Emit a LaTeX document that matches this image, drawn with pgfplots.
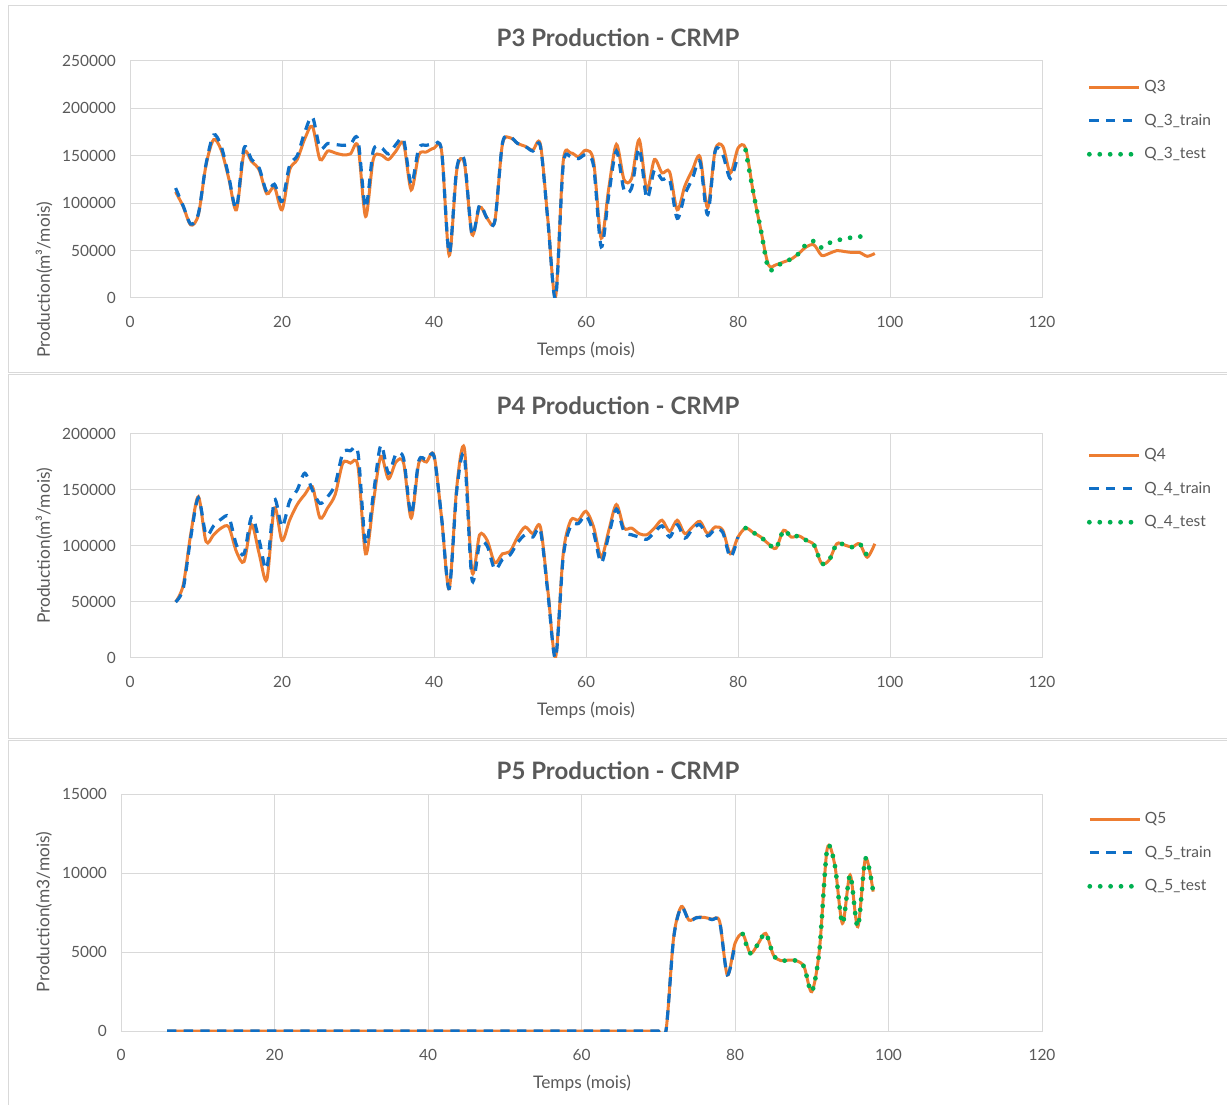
\documentclass[border=0pt]{standalone}
\usepackage{fontspec}
\setmainfont{Lato}
\usepackage{pgfplots}
\pgfplotsset{compat=1.18}
\definecolor{qorange}{HTML}{ED7D31}
\definecolor{qblue}{HTML}{0F6FC6}
\definecolor{qgreen}{HTML}{00B050}
\definecolor{gridc}{HTML}{D9D9D9}
\definecolor{txt}{HTML}{595959}
\pgfplotsset{
  crmp/.style={
    scale only axis,
    xmin=0,xmax=120, xtick={0,20,...,120},
    ymin=0,
    grid=major,
    major grid style={draw=gridc, line width=0.75pt},
    axis line style={draw=gridc, line width=0.75pt},
    major tick length=0pt,
    tick label style={font=\fontsize{11.6}{13}\selectfont, text=txt},
    /pgf/number format/assume math mode=true,
    /pgf/number format/fixed,
    /pgf/number format/precision=0,
    /pgf/number format/1000 sep={},
    scaled y ticks=false,
    yticklabel style={xshift=-7pt},
    xticklabel style={yshift=-10.5pt},
    legend style={at={(1.049,0.930)}, anchor=north west, draw=none, fill=none, inner sep=0pt,
      font=\fontsize{11.6}{13}\selectfont, text=txt, row sep=11.25pt, cells={anchor=west}},
    legend image code/.code={\draw[#1] (0pt,0pt) -- (37.5pt,0pt);},
    legend cell align=left,
  },
  qo/.style={qorange, line width=2.25pt, smooth, mark=none},
  qb/.style={qblue, line width=2.4pt, dash pattern=on 7pt off 5.5pt, smooth, mark=none},
  qg/.style={qgreen, line width=3.6pt, dash pattern=on 0pt off 7.8pt, line cap=round, smooth, mark=none},
}
\begin{document}
\begin{tikzpicture}
\path[use as bounding box] (0,0) rectangle (920.25pt,828pt);
\draw[gridc, line width=0.75pt] (6pt,823.5pt) rectangle (930pt,548.25pt);
\draw[gridc, line width=0.75pt] (6pt,546.75pt) rectangle (930pt,274.5pt);
\draw[gridc, line width=0.75pt] (6pt,273pt) rectangle (930pt,-4.5pt);

% ---------------- P3
\begin{axis}[crmp, at={(97.5pt,604.5pt)}, width=684pt, height=177.75pt,
  ymax=250000, ytick={0,50000,...,250000}]
\addplot[qo] table {
6 112000
7 96500
8 77000
9 88000
10 140000
11 167000
12 156000
13 126000
14 93000
15 153000
16 144000
17 135000
18 110000
19 117000
20 93000
21 135000
22 146000
23 168000
24 181000
25 146000
26 155000
27 153000
28 151000
29 152000
30 160000
31 86000
32 146000
33 151000
34 146000
35 155000
36 163000
37 114000
38 151000
39 154000
40 158000
41 155000
42 45000
43 135000
44 142000
45 67000
46 96000
47 84000
48 81000
49 162000
50 169000
51 163000
52 160000
53 156000
54 162000
55 81000
56 1500
57 144000
58 153000
59 149000
60 156000
61 144000
62 63000
63 116000
64 162000
65 125000
66 126000
67 167000
68 114000
69 146000
70 132000
71 133000
72 93000
73 118000
74 135000
75 149000
76 95000
77 156000
78 160000
79 132000
80 158000
81 158000
82 112000
83 72000
84 35000
85 35000
86 38000
87 41000
88 47000
89 54000
90 56000
91 45000
92 47000
93 50000
94 49000
95 48000
96 48000
97 44000
98 47000
};
\addlegendentry{Q3}
\addplot[qb] table {
6 116000
7 97000
8 78000
9 89000
10 141000
11 172000
12 160000
13 128000
14 95000
15 158000
16 146000
17 137000
18 112000
19 120000
20 102000
21 140000
22 150000
23 175000
24 191000
25 158000
26 163000
27 162000
28 161000
29 162000
30 167000
31 95000
32 155000
33 159000
34 152000
35 162000
36 167000
37 120000
38 158000
39 161000
40 162000
41 155000
42 47000
43 137000
44 145000
45 67000
46 98000
47 84000
48 81000
49 163000
50 170000
51 163000
52 160000
53 155000
54 160000
55 80000
56 0
57 140000
58 149000
59 147000
60 151000
61 139000
62 54000
63 109000
64 155000
65 114000
66 116000
67 158000
68 105000
69 135000
70 125000
71 125000
72 84000
73 109000
74 126000
75 144000
76 88000
77 155000
78 151000
79 126000
80 151000
};
\addlegendentry{Q\_3\_train}
\addplot[qg] table {
81 156000
82 112000
83 72000
84 31000
85 33000
86 38000
87 41000
88 47000
89 57000
90 60000
91 53000
92 58000
93 61000
94 62000
95 64000
96 65000
97 62000
};
\addlegendentry{Q\_3\_test}
\end{axis}

% ---------------- P4
\begin{axis}[crmp, at={(97.5pt,334.5pt)}, width=684pt, height=168pt,
  ymax=200000, ytick={0,50000,...,200000}, legend style={at={(1.049,0.9485)}}]
\addplot[qo] table {
6 50000
7 65000
8 111000
9 144000
10 104000
11 110000
12 116000
13 117000
14 95000
15 86000
16 119000
17 93000
18 70000
19 134000
20 105000
21 123000
22 137000
23 146000
24 153000
25 125000
26 134000
27 146000
28 174000
29 174000
30 171000
31 93000
32 138000
33 180000
34 160000
35 175000
36 174000
37 125000
38 174000
39 175000
40 181000
41 125000
42 62000
43 153000
44 187000
45 77000
46 110000
47 105000
48 85000
49 93000
50 95000
51 108000
52 117000
53 111000
54 117000
55 59000
56 1000
57 93000
58 123000
59 123000
60 131000
61 117000
62 90000
63 114000
64 137000
65 116000
66 116000
67 111000
68 110000
69 116000
70 123000
71 113000
72 123000
73 111000
74 117000
75 122000
76 111000
77 117000
78 114000
79 93000
80 108000
81 116000
82 112000
83 108000
84 102000
85 98000
86 114000
87 108000
88 109000
89 105000
90 101000
91 84500
92 87500
93 102000
94 101000
95 99000
96 102000
97 90000
98 102000
};
\addlegendentry{Q4}
\addplot[qb] table {
6 50000
7 62000
8 108000
9 143000
10 110000
11 118000
12 124000
13 126000
14 101000
15 93000
16 126000
17 105000
18 80000
19 141000
20 117000
21 140000
22 150000
23 165000
24 150000
25 138000
26 144000
27 155000
28 183000
29 185000
30 183000
31 102000
32 145000
33 190000
34 165000
35 182000
36 178000
37 128000
38 176000
39 177000
40 180000
41 125000
42 62000
43 150000
44 180000
45 70000
46 102000
47 100000
48 79000
49 88000
50 92000
51 103000
52 110000
53 108000
54 114000
55 57000
56 0
57 90000
58 118000
59 120000
60 127000
61 112000
62 85000
63 110000
64 133000
65 113000
66 110000
67 108000
68 106000
69 112000
70 118000
71 108000
72 119000
73 107000
74 115000
75 119000
76 109000
77 115000
78 112000
79 90000
80 108000
};
\addlegendentry{Q\_4\_train}
\addplot[qg] table {
81 116000
82 112000
83 108000
84 102000
85 98000
86 114000
87 108000
88 109000
89 105000
90 101000
91 84500
92 87500
93 102000
94 101000
95 99000
96 102000
97 91000
};
\addlegendentry{Q\_4\_test}
\end{axis}

% ---------------- P5
\begin{axis}[crmp, at={(90.75pt,54.75pt)}, width=690.75pt, height=177.75pt,
  ymax=15000, ytick={0,5000,...,15000}, legend style={at={(1.049,0.934)}}]
\addplot[qo] table {
6 0
7 0
8 0
9 0
10 0
11 0
12 0
13 0
14 0
15 0
16 0
17 0
18 0
19 0
20 0
21 0
22 0
23 0
24 0
25 0
26 0
27 0
28 0
29 0
30 0
31 0
32 0
33 0
34 0
35 0
36 0
37 0
38 0
39 0
40 0
41 0
42 0
43 0
44 0
45 0
46 0
47 0
48 0
49 0
50 0
51 0
52 0
53 0
54 0
55 0
56 0
57 0
58 0
59 0
60 0
61 0
62 0
63 0
64 0
65 0
66 0
67 0
68 0
69 0
70 0
71 0
72 5900
73 7870
74 7020
75 7190
76 7190
77 7070
78 6920
79 3540
80 5550
81 6140
82 4920
83 5510
84 6180
85 4810
86 4450
87 4490
88 4450
89 4070
90 2490
91 5130
92 11500
93 10510
94 6810
95 9870
96 6600
97 10930
98 8820
};
\addlegendentry{Q5}
\addplot[qb] table {
6 0
7 0
8 0
9 0
10 0
11 0
12 0
13 0
14 0
15 0
16 0
17 0
18 0
19 0
20 0
21 0
22 0
23 0
24 0
25 0
26 0
27 0
28 0
29 0
30 0
31 0
32 0
33 0
34 0
35 0
36 0
37 0
38 0
39 0
40 0
41 0
42 0
43 0
44 0
45 0
46 0
47 0
48 0
49 0
50 0
51 0
52 0
53 0
54 0
55 0
56 0
57 0
58 0
59 0
60 0
61 0
62 0
63 0
64 0
65 0
66 0
67 0
68 0
69 0
70 0
71 0
72 5850
73 7820
74 7000
75 7170
76 7170
77 7050
78 6900
79 3560
80 5550
};
\addlegendentry{Q\_5\_train}
\addplot[qg] table {
81 6140
82 4920
83 5510
84 6180
85 4810
86 4450
87 4490
88 4450
89 4070
90 2490
91 5130
92 11500
93 10510
94 6810
95 9870
96 6600
97 10930
98 8820
};
\addlegendentry{Q\_5\_test}
\end{axis}

% titles and axis labels
\node[font=\fontsize{18}{22}\selectfont\bfseries, text=txt] at (463.5pt,799.5pt) {P3 Production - CRMP};
\node[font=\fontsize{18}{22}\selectfont\bfseries, text=txt] at (463.5pt,523.5pt) {P4 Production - CRMP};
\node[font=\fontsize{18}{22}\selectfont\bfseries, text=txt] at (463.5pt,249.75pt) {P5 Production - CRMP};
\node[font=\fontsize{13}{15}\selectfont, text=txt] at (439.5pt,565.5pt) {Temps (mois)};
\node[font=\fontsize{13}{15}\selectfont, text=txt] at (439.5pt,295.5pt) {Temps (mois)};
\node[font=\fontsize{13}{15}\selectfont, text=txt] at (436.5pt,15.75pt) {Temps (mois)};
\node[rotate=90, font=\fontsize{13}{15}\selectfont, text=txt] at (33pt,618pt) {Production(m³/mois)};
\node[rotate=90, font=\fontsize{13}{15}\selectfont, text=txt] at (33pt,418.5pt) {Production(m³/mois)};
\node[rotate=90, font=\fontsize{13}{15}\selectfont, text=txt] at (33pt,144pt) {Production(m3/mois)};
\end{tikzpicture}
\end{document}
